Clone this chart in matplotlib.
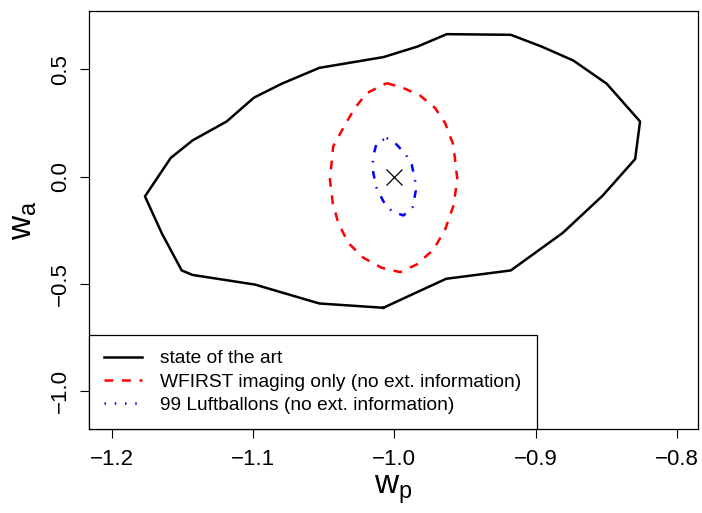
import numpy as np
import matplotlib.pyplot as plt
from matplotlib.lines import Line2D

plt.rcParams['font.family'] = ['Liberation Sans', 'DejaVu Sans']
plt.rcParams['mathtext.fontset'] = 'custom'
plt.rcParams['mathtext.rm'] = 'Liberation Sans'
plt.rcParams['mathtext.it'] = 'Liberation Sans'

# contour of the current constraints (w_p, w_a)
art_wp = [-1.0077, -0.9633, -0.9175, -0.8807, -0.8524, -0.8295, -0.8260, -0.8496,
          -0.8732, -0.8956, -0.9175, -0.9628, -0.9836, -1.0077, -1.0530, -1.0796,
          -1.0993, -1.1186, -1.1427, -1.1582, -1.1764, -1.1644, -1.1504, -1.1427,
          -1.0985, -1.0530, -1.0077]
art_wa = [-0.611, -0.476, -0.437, -0.262, -0.088, 0.082, 0.257, 0.433,
          0.541, 0.606, 0.661, 0.664, 0.606, 0.557, 0.507, 0.433,
          0.368, 0.257, 0.169, 0.087, -0.092, -0.265, -0.437, -0.458,
          -0.503, -0.591, -0.611]

# WFIRST imaging only
wf_wp = [-1.0053, -0.9935, -0.9817, -0.9711, -0.9640, -0.9582, -0.9553, -0.9582,
         -0.9640, -0.9722, -0.9840, -0.9958, -1.0088, -1.0218, -1.0325, -1.0396,
         -1.0435, -1.0455, -1.0432, -1.0348, -1.0278, -1.0195, -1.0053]
wf_wa = [0.436, 0.413, 0.378, 0.320, 0.250, 0.149, -0.014, -0.138,
         -0.247, -0.340, -0.409, -0.445, -0.425, -0.378, -0.309, -0.216,
         -0.122, -0.014, 0.141, 0.242, 0.320, 0.389, 0.436]

# 99 Luftballons
lb_wp = [-1.0053, -0.9982, -0.9917, -0.9876, -0.9853, -0.9848, -0.9869, -0.9935,
         -1.0017, -1.0077, -1.0124, -1.0148, -1.0152, -1.0124, -1.0053]
lb_wa = [0.180, 0.149, 0.102, 0.056, -0.014, -0.068, -0.141, -0.181,
         -0.161, -0.115, -0.053, 0.017, 0.087, 0.157, 0.180]

fid_wp, fid_wa = -1.0, 0.0

labels = ['state of the art',
          'WFIRST imaging only (no ext. information)',
          '99 Luftballons (no ext. information)']

fig = plt.figure(figsize=(7.02, 5.13), dpi=100)
ax = fig.add_axes([0.1268, 0.1637, 0.8675, 0.8149])

ax.plot(art_wp, art_wa, color='black', lw=1.8)
ax.plot(wf_wp, wf_wa, color='red', lw=1.8, dashes=(3.5, 3.5))
ax.plot(lb_wp, lb_wa, color='blue', lw=1.8, dashes=(0.6, 3.5, 3.0, 3.5))
ax.plot(fid_wp, fid_wa, marker='x', color='black', ms=11, mew=0.9, ls='none')

ax.set_xlim(-1.216, -0.785)
ax.set_ylim(-1.176, 0.772)
ax.set_xticks([-1.2, -1.1, -1.0, -0.9, -0.8])
ax.set_xticklabels(['\u22121.2', '\u22121.1', '\u22121.0', '\u22120.9', '\u22120.8'])
ax.set_yticks([-1.0, -0.5, 0.0, 0.5])
ax.set_yticklabels(['\u22121.0', '\u22120.5', '0.0', '0.5'], rotation=90, va='center')
ax.tick_params(length=6.2, width=0.8, labelsize=16)
ax.tick_params(axis='x', pad=8)
ax.tick_params(axis='y', pad=7)
for s in ax.spines.values():
    s.set_linewidth(0.9)

ax.set_xlabel(r'$\mathregular{w_p}$', fontsize=24, labelpad=3)
ax.set_ylabel(r'$\mathregular{w_a}$', fontsize=24, labelpad=8)

handles = [Line2D([], [], color='black', lw=1.8),
           Line2D([], [], color='red', lw=1.8, dashes=(3.5, 3.5)),
           Line2D([], [], color='blue', lw=1.8, dashes=(0.6, 3.5))]
leg = ax.legend(handles, labels, loc='lower left', bbox_to_anchor=(0, 0),
                borderaxespad=0, fancybox=False, framealpha=1, edgecolor='black',
                fontsize=13.8, handlelength=1.95, handletextpad=0.95,
                borderpad=0.8, labelspacing=0.3)
leg.get_frame().set_linewidth(0.9)

fig.savefig('out.png', dpi=100)
